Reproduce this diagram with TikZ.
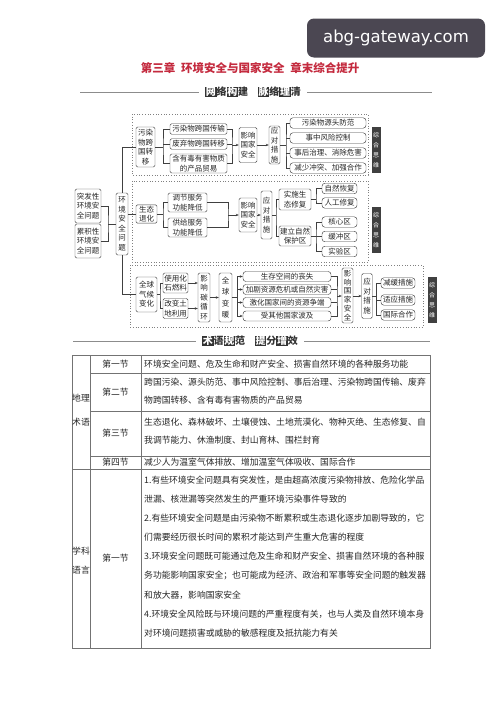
\documentclass[tikz,border=0pt]{standalone}
\usepackage{fontspec}
\setmainfont{Noto Sans CJK SC}
\newfontfamily\wmfont{DejaVu Sans}
\usetikzlibrary{arrows.meta}
\definecolor{titlered}{HTML}{C42A3E}
\definecolor{wmgray}{HTML}{4B4752}
\newcommand{\blk}[1]{{\setlength{\fboxsep}{0.7pt}\colorbox{black!80}{\textcolor{white}{#1}}}}

\begin{document}
\begin{tikzpicture}[
		x=1pt, y=-1pt,
		box/.style={draw=black!75, fill=white, rounded corners=1.5pt, line width=0.45pt, inner sep=1pt, align=center, text=black!85, font=\fontsize{7.5}{9.5}\selectfont},
		pill/.style={box, rounded corners=3pt, minimum height=10.5pt},
		vbox/.style={box, inner xsep=1.5pt},
		region/.style={draw=black!50, dotted, line width=0.7pt},
		tag/.style={fill=black!75, text=white, inner sep=0.8pt, minimum width=9pt, align=center, font=\fontsize{6}{10}\selectfont},
		link/.style={draw=black!75, line width=0.45pt},
		arr/.style={link, -{Stealth[length=3pt,width=2.4pt]}},
		rule/.style={draw=black!45, line width=0.5pt},
		grid/.style={draw=black!55, line width=0.5pt},
		cell/.style={inner sep=0pt, text=black!85, font=\fontsize{8.8}{18}\selectfont},
		body/.style={cell, anchor=west, align=left}
		]
		\useasboundingbox (0,0) rectangle (500,707);
		\fill[white] (0,0) rectangle (500,707);

		% Watermark
		\node[fill=wmgray, rounded corners=7pt, minimum width=178pt, minimum height=39pt, text=white, font=\wmfont\fontsize{16.5}{18}\selectfont] (wm) at (396,38) {abg-gateway.com};

		% Title and headings
		\node[text=titlered, font=\fontsize{11.5}{13}\selectfont\bfseries] (title) at (250,68) {第三章\hspace{0.5em}环境安全与国家安全\hspace{0.5em}章末综合提升};
		\node[font=\fontsize{10}{12}\selectfont\bfseries, text=black!80] (head1) at (253,92) {\blk{网}络\blk{构}建\hspace{1em}\blk{脉}络\blk{理}清};
		\draw[rule] (80,92) -- ([xshift=-3pt]head1.west);
		\draw[rule] ([xshift=3pt]head1.east) -- (432,92);

		% Dotted regions
		\draw[region] (132,114) rectangle (368,175);
		\draw[region] (132,181) rectangle (368,262);
		\draw[region] (130,265) rectangle (423,327);
		\node[tag, minimum height=46pt] (tag1) at (376,150) {综\\合\\思\\维};
		\node[tag, minimum height=46pt] (tag2) at (376,230) {综\\合\\思\\维};
		\node[tag, minimum height=46pt] (tag3) at (432,300) {综\\合\\思\\维};

		% Left part
		\node[box, minimum width=26pt, minimum height=34pt] (tufa) at (88,206) {突发性\\环境安\\全问题};
		\node[box, minimum width=26pt, minimum height=34pt] (leiji) at (88,241) {累积性\\环境安\\全问题};
		\node[vbox, minimum width=12pt, minimum height=62pt] (huanjing) at (122,224) {环\\境\\安\\全\\问\\题};
		\coordinate (jl) at (108,224);
		\draw[link] (tufa.east) -| (jl) |- (leiji.east);
		\draw[link] (jl) -- (huanjing.west);

		% Transboundary pollution
		\node[vbox, minimum width=19pt, minimum height=40pt] (wuran) at (145.5,147) {污染\\物跨\\国转\\移};
		\node[box, minimum width=57pt, minimum height=10.5pt] (chuanshu) at (198.5,129) {污染物跨国传输};
		\node[box, minimum width=57pt, minimum height=10.5pt] (zhuanyi) at (198.5,144) {废弃物跨国转移};
		\node[box, minimum width=57pt, minimum height=19pt] (maoyi) at (198.5,163.5) {含有毒有害物质\\的产品贸易};
		\node[vbox, minimum width=18pt, minimum height=35pt] (yingxiang1) at (248,145) {影响\\国家\\安全};
		\node[vbox, minimum width=11pt, minimum height=38pt] (yingdui1) at (274.5,145) {应\\对\\措\\施};
		\node[pill, minimum width=76pt] (yuantou) at (328,123) {污染物源头防范};
		\node[pill, minimum width=76pt] (shizhong) at (328,138) {事中风险控制};
		\node[pill, minimum width=76pt] (shihou) at (328,153) {事后治理、消除危害};
		\node[pill, minimum width=76pt] (jianshao) at (328,168) {减少冲突、加强合作};
		\coordinate (j1) at (163,147);
		\coordinate (j2) at (232,145);
		\coordinate (j3) at (286,145);
		\draw[link] (huanjing.north) |- (wuran.west);
		\draw[link] (wuran.east) -- (j1);
		\draw[link] (chuanshu.west) -| (j1) |- (maoyi.west);
		\draw[link] (zhuanyi.west) -- (zhuanyi.west -| j1);
		\draw[link] (chuanshu.east) -| (j2) |- (maoyi.east);
		\draw[link] (zhuanyi.east) -- (zhuanyi.east -| j2);
		\draw[arr] (j2) -- (yingxiang1.west);
		\draw[arr] (yingxiang1.east) -- (yingdui1.west);
		\draw[link] (yingdui1.east) -- (j3);
		\draw[link] (yuantou.west) -| (j3) |- (jianshao.west);
		\draw[link] (shizhong.west) -- (shizhong.west -| j3);
		\draw[link] (shihou.west) -- (shihou.west -| j3);

		% Ecological degradation
		\node[box, minimum width=21pt, minimum height=18pt] (shengtai) at (146.5,214) {生态\\退化};
		\node[box, minimum width=39pt, minimum height=19pt] (tiaojie) at (187.5,202.5) {调节服务\\功能降低};
		\node[box, minimum width=39pt, minimum height=19pt] (gongji) at (187.5,227.5) {供给服务\\功能降低};
		\node[vbox, minimum width=18pt, minimum height=34pt] (yingxiang2) at (248,215) {影响\\国家\\安全};
		\node[vbox, minimum width=11pt, minimum height=48pt] (yingdui2) at (266.5,215) {应\\对\\措\\施};
		\node[box, minimum width=32pt, minimum height=21pt] (shishi) at (295,199.5) {实施生\\态修复};
		\node[box, minimum width=32pt, minimum height=20pt] (jianli) at (295,236) {建立自然\\保护区};
		\node[pill, minimum width=35pt] (ziran) at (339.5,188.5) {自然恢复};
		\node[pill, minimum width=35pt] (rengong) at (339.5,203) {人工修复};
		\node[pill, minimum width=35pt] (hexin) at (339.5,222) {核心区};
		\node[pill, minimum width=35pt] (huanchong) at (339.5,236.5) {缓冲区};
		\node[pill, minimum width=35pt] (shiyan) at (339.5,251.5) {实验区};
		\coordinate (j4) at (163,214);
		\coordinate (j5) at (228,215);
		\coordinate (j6) at (276,215);
		\coordinate (j7) at (316,199.5);
		\coordinate (j8) at (316,236);
		\draw[link] (huanjing.east |- shengtai) -- (shengtai.west);
		\draw[link] (shengtai.east) -- (j4);
		\draw[link] (tiaojie.west) -| (j4) |- (gongji.west);
		\draw[link] (tiaojie.east) -| (j5) |- (gongji.east);
		\draw[arr] (j5) -- (yingxiang2.west);
		\draw[arr] (yingxiang2.east) -- (yingdui2.west);
		\draw[link] (yingdui2.east) -- (j6);
		\draw[link] (shishi.west) -| (j6) |- (jianli.west);
		\draw[link] (shishi.east) -- (j7);
		\draw[link] (ziran.west) -| (j7) |- (rengong.west);
		\draw[link] (jianli.east) -- (j8);
		\draw[link] (hexin.west) -| (j8) |- (shiyan.west);
		\draw[link] (huanchong.west) -- (huanchong.west -| j8);

		% Global climate change
		\node[box, minimum width=21pt, minimum height=35pt] (qihou) at (146.5,294.5) {全球\\气候\\变化};
		\node[box, minimum width=25pt, minimum height=20pt] (shiyong) at (175.5,283) {使用化\\石燃料};
		\node[box, minimum width=25pt, minimum height=20pt] (gaibian) at (175.5,308.5) {改变土\\地利用};
		\node[vbox, minimum width=12pt, minimum height=49pt] (tanxun) at (204,297.5) {影\\响\\碳\\循\\环};
		\node[vbox, minimum width=13pt, minimum height=49pt, font=\fontsize{7.5}{11.5}\selectfont] (biannuan) at (225.5,297.5) {全\\球\\变\\暖};
		\node[pill, minimum width=88pt, minimum height=10pt] (sangshi) at (287,276.5) {生存空间的丧失};
		\node[pill, minimum width=88pt, minimum height=10pt] (jiaju) at (287,289.5) {加剧资源危机或自然灾害};
		\node[pill, minimum width=88pt, minimum height=10pt] (jihua) at (287,302.5) {激化国家间的资源争端};
		\node[pill, minimum width=88pt, minimum height=10pt] (shouqi) at (287,316) {受其他国家波及};
		\node[vbox, minimum width=11pt, minimum height=55pt, font=\fontsize{7.5}{8.8}\selectfont] (yingxiang3) at (347.5,295.5) {影\\响\\国\\家\\安\\全};
		\node[vbox, minimum width=10.5pt, minimum height=45pt] (yingdui3) at (367,296) {应\\对\\措\\施};
		\node[pill, minimum width=34pt] (jianhuan) at (398,283) {减缓措施};
		\node[pill, minimum width=34pt] (shiying) at (398,300) {适应措施};
		\node[pill, minimum width=34pt] (guoji) at (398,315) {国际合作};
		\coordinate (j9) at (160,294.5);
		\coordinate (j10) at (237,297.5);
		\coordinate (j11) at (337,296);
		\coordinate (j12) at (376.5,296);
		\draw[link] (huanjing.south) |- (qihou.west);
		\draw[link] (qihou.east) -- (j9);
		\draw[link] (shiyong.west) -| (j9) |- (gaibian.west);
		\draw[arr] (shiyong.east) -- (shiyong.east -| tanxun.west);
		\draw[arr] (gaibian.east) -- (gaibian.east -| tanxun.west);
		\draw[arr] (tanxun.east) -- (biannuan.west);
		\draw[link] (biannuan.east) -- (j10);
		\foreach \n in {sangshi, jiaju, jihua, shouqi}
			\draw[arr] (j10) |- (\n.west);
		\draw[link] (sangshi.east) -| (j11) |- (shouqi.east);
		\draw[link] (jiaju.east) -- (jiaju.east -| j11);
		\draw[link] (jihua.east) -- (jihua.east -| j11);
		\draw[arr] (j11) -- (yingxiang3.west |- j11);
		\draw[arr] (yingxiang3.east |- yingdui3) -- (yingdui3.west);
		\draw[link] (yingdui3.east) -- (j12);
		\draw[link] (jianhuan.west) -| (j12) |- (guoji.west);
		\draw[link] (shiying.west) -- (shiying.west -| j12);

		% Second heading
		\node[font=\fontsize{10}{12}\selectfont\bfseries, text=black!80] (head2) at (250,341) {\blk{术}语\blk{规}范\hspace{1em}\blk{提}分\blk{增}效};
		\draw[rule] (73,341) -- ([xshift=-3pt]head2.west);
		\draw[rule] ([xshift=3pt]head2.east) -- (430,341);

		% Table
		\draw[grid] (72,355) rectangle (430,648);
		\draw[grid] (90,355) -- (90,648);
		\draw[grid] (141,355) -- (141,648);
		\draw[grid] (90,373) -- (430,373);
		\draw[grid] (90,411) -- (430,411);
		\draw[grid] (90,456) -- (430,456);
		\draw[grid] (72,469) -- (430,469);

		\node[cell, align=center, font=\fontsize{8.8}{24}\selectfont] (dili) at (81,410) {地理\\术语};
		\node[cell] (sec1) at (115.5,364) {第一节};
		\node[cell] (sec2) at (115.5,392) {第二节};
		\node[cell] (sec3) at (115.5,433.5) {第三节};
		\node[cell] (sec4) at (115.5,462.5) {第四节};
		\node[body] (txt1) at (144,364) {环境安全问题、危及生命和财产安全、损害自然环境的各种服务功能};
		\node[body] (txt2) at (144,391) {跨国污染、源头防范、事中风险控制、事后治理、污染物跨国传输、废弃\\物跨国转移、含有毒有害物质的产品贸易};
		\node[body] (txt3) at (144,431) {生态退化、森林破坏、土壤侵蚀、土地荒漠化、物种灭绝、生态修复、自\\我调节能力、休渔制度、封山育林、围栏封育};
		\node[body] (txt4) at (144,462.5) {减少人为温室气体排放、增加温室气体吸收、国际合作};

		\node[cell, align=center, font=\fontsize{8.8}{19}\selectfont] (xueke) at (81,561) {学科\\语言};
		\node[cell] (sec5) at (115.5,558) {第一节};
		\node[body, font=\fontsize{8.8}{19.1}\selectfont] (txt5) at (144,556.5) {1.有些环境安全问题具有突发性，是由超高浓度污染物排放、危险化学品\\泄漏、核泄漏等突然发生的严重环境污染事件导致的\\2.有些环境安全问题是由污染物不断累积或生态退化逐步加剧导致的，它\\们需要经历很长时间的累积才能达到产生重大危害的程度\\3.环境安全问题既可能通过危及生命和财产安全、损害自然环境的各种服\\务功能影响国家安全；也可能成为经济、政治和军事等安全问题的触发器\\和放大器，影响国家安全\\4.环境安全风险既与环境问题的严重程度有关，也与人类及自然环境本身\\对环境问题损害或威胁的敏感程度及抵抗能力有关};
	\end{tikzpicture}
\end{document}
